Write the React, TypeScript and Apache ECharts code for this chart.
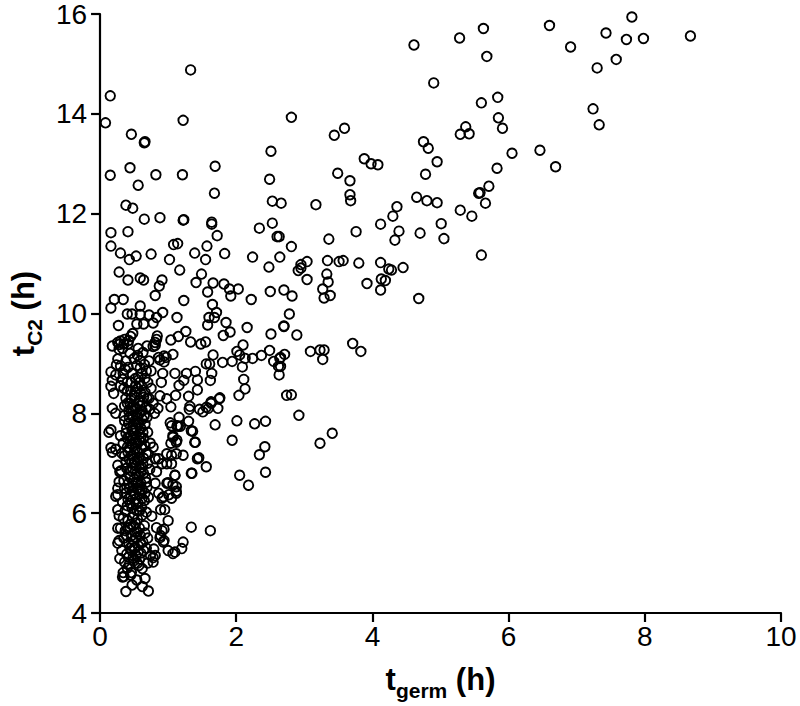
import React, { useEffect, useRef } from "react";
import * as echarts from "echarts";

// x: t_germ (h), y: t_C2 (h)
const xTicks = [0, 2, 4, 6, 8, 10];
const yTicks = [4, 6, 8, 10, 12, 14, 16];

const lateGermPoints: number[][] = [
  [7.81, 15.94], [6.60, 15.77], [7.43, 15.62], [7.73, 15.49], [7.98, 15.51], [8.67, 15.56],
  [6.91, 15.34], [7.58, 15.09], [7.30, 14.92], [7.24, 14.10], [7.33, 13.78], [6.46, 13.27],
  [6.69, 12.94], [4.61, 15.38], [5.28, 15.52], [5.63, 15.71], [5.68, 15.15], [4.90, 14.62],
  [5.60, 14.22], [5.84, 14.33], [5.85, 13.92], [5.91, 13.71], [5.37, 13.74], [5.29, 13.59],
  [5.42, 13.60], [4.75, 13.44], [4.82, 13.31], [4.95, 13.04], [4.78, 12.79], [6.05, 13.21],
  [5.83, 12.91], [5.71, 12.55], [5.56, 12.41], [5.58, 12.42], [5.66, 12.21], [5.29, 12.07],
  [5.46, 11.95], [4.65, 12.33], [4.80, 12.26], [4.95, 12.22], [4.36, 12.14], [4.30, 11.95],
  [4.12, 11.79], [4.39, 11.65], [4.33, 11.47], [4.70, 11.61], [5.01, 11.80], [5.05, 11.50],
  [5.60, 11.17], [4.68, 10.30], [4.45, 10.92],
];

const midGermPoints: number[][] = [
  [2.81, 13.93], [3.44, 13.57], [3.59, 13.71], [3.88, 13.10], [3.98, 13.00], [4.08, 12.98],
  [3.49, 12.81], [3.67, 12.66], [3.67, 12.38], [3.68, 12.26], [3.17, 12.18], [2.66, 12.21],
  [2.51, 13.25], [2.49, 12.69], [2.53, 12.25], [3.76, 11.64], [3.36, 11.49], [2.81, 11.34],
  [2.63, 11.54], [2.64, 11.13], [3.04, 11.04], [2.95, 10.98], [2.91, 10.86], [2.95, 10.91],
  [3.34, 11.06], [3.51, 11.04], [3.57, 11.06], [3.80, 11.01], [4.12, 11.02], [4.24, 10.89],
  [4.28, 10.87], [3.04, 10.68], [3.33, 10.79], [3.35, 10.63], [3.27, 10.49], [3.29, 10.31],
  [3.38, 10.36], [3.92, 10.60], [4.13, 10.69], [4.19, 10.66], [4.12, 10.47], [2.70, 10.47],
  [2.82, 10.35], [2.78, 9.99], [2.70, 9.75], [2.89, 9.57], [3.71, 9.40], [3.83, 9.24],
  [3.09, 9.24], [3.23, 9.27], [3.29, 9.27], [3.27, 9.08], [2.71, 9.18], [2.65, 9.12],
  [2.65, 8.94], [2.63, 8.77], [2.81, 8.37], [2.92, 7.96], [3.41, 7.60], [3.23, 7.40],
];

const earlyUpperPoints: number[][] = [
  [1.33, 14.88], [0.15, 14.36], [0.08, 13.82], [1.22, 13.87], [0.46, 13.59], [0.65, 13.42],
  [0.66, 13.44], [0.15, 12.77], [0.44, 12.92], [0.82, 12.78], [1.21, 12.78], [1.69, 12.95],
  [0.56, 12.57], [1.68, 12.41], [0.38, 12.17], [0.48, 12.11], [0.65, 11.89], [0.88, 11.92],
  [1.22, 11.87], [1.23, 11.88], [1.64, 11.83],
  [0.16, 11.62], [0.41, 11.64], [0.16, 11.35], [0.30, 11.21], [0.43, 11.08], [0.53, 11.15],
  [0.75, 11.19], [1.02, 11.08], [1.08, 11.38], [1.14, 11.40], [1.39, 11.21], [1.55, 11.08],
  [1.57, 11.35], [1.64, 11.79], [1.72, 11.56], [1.83, 11.20], [2.24, 11.13], [2.34, 11.71],
  [2.53, 11.81], [2.60, 11.54], [2.48, 10.93], [0.28, 10.83], [0.41, 10.67], [0.59, 10.71],
  [0.64, 10.67], [1.17, 10.87], [0.91, 10.67], [0.87, 10.55], [0.81, 10.36], [1.41, 10.62],
  [1.49, 10.79], [1.66, 10.61], [1.58, 10.43], [1.82, 10.59], [1.90, 10.49], [1.92, 10.35],
  [2.03, 10.49], [2.22, 10.28], [2.50, 10.44], [0.21, 10.28], [0.34, 10.28], [0.16, 10.11],
  [0.59, 10.15], [1.23, 10.26], [1.65, 10.18], [1.71, 10.02], [1.68, 9.92], [1.60, 9.92],
  [0.40, 9.99], [0.47, 9.99], [0.59, 9.98], [0.72, 9.97], [0.83, 9.92], [0.54, 9.79],
  [0.64, 9.79], [0.78, 9.81], [0.92, 10.02], [0.27, 9.76], [1.13, 9.92], [1.58, 9.77],
  [1.85, 9.82], [1.91, 9.63], [1.81, 9.56], [2.16, 9.72], [2.51, 9.59], [2.70, 9.74],
];

const earlyMidPoints: number[][] = [
  [0.45, 9.54], [0.28, 9.38], [0.35, 9.39], [0.41, 9.39], [0.18, 9.35], [0.81, 9.42],
  [0.78, 9.34], [1.04, 9.47], [1.15, 9.54], [1.26, 9.64], [1.33, 9.43], [1.48, 9.39],
  [1.55, 9.43], [1.66, 9.17], [1.80, 9.02], [1.94, 9.04], [2.01, 9.24], [2.10, 9.37],
  [2.05, 9.17], [2.13, 9.10], [2.24, 9.10], [2.37, 9.16], [2.49, 9.26], [2.55, 9.04],
  [2.64, 9.10], [2.62, 8.94], [2.74, 8.36], [1.07, 9.18], [0.88, 9.07], [0.94, 9.03],
  [1.56, 8.99], [1.61, 8.99], [1.64, 8.80], [2.09, 8.93], [2.11, 8.68], [2.13, 8.49],
  [2.04, 8.36], [1.76, 8.31], [1.10, 8.80], [1.27, 8.80], [1.23, 8.66], [1.40, 8.84],
  [1.43, 8.67], [1.62, 8.66], [1.43, 8.47], [1.30, 8.34], [1.32, 8.14], [1.46, 8.08],
  [1.56, 8.12], [1.63, 8.23], [1.16, 8.56], [1.11, 8.36], [1.04, 8.13], [0.98, 8.29],
  [1.69, 7.77], [2.01, 7.85], [2.27, 7.79], [2.43, 7.84], [1.94, 7.46], [2.42, 7.33],
  [2.34, 7.17], [2.43, 6.82], [2.05, 6.76], [2.18, 6.56], [1.34, 5.72], [1.62, 5.65],
  [1.45, 7.11], [1.56, 6.93], [1.35, 6.80], [1.40, 7.42], [1.36, 7.64], [1.30, 7.84],
  [1.16, 7.92], [1.18, 7.74], [1.31, 8.08], [1.51, 8.03], [1.59, 8.10], [1.63, 8.20],
  [1.73, 8.10], [1.75, 8.29], [1.03, 7.81], [1.15, 7.74], [1.07, 7.55], [1.13, 7.46],
  [1.04, 7.40], [1.10, 6.76], [1.07, 6.57], [1.12, 6.44], [1.01, 6.37], [1.00, 6.61],
  [0.93, 6.33], [0.89, 6.07], [1.00, 5.85], [0.94, 5.68], [0.89, 5.55], [0.94, 5.45],
  [0.76, 5.94], [0.79, 5.28], [0.78, 5.11],
  [1.05, 7.75], [1.13, 7.75], [1.34, 7.65], [1.07, 7.52], [1.12, 7.42], [1.39, 7.42],
  [0.98, 7.19], [1.05, 7.16], [1.12, 7.19], [1.22, 7.16], [0.86, 7.09], [0.91, 6.99],
  [0.98, 6.99], [1.05, 6.99], [1.10, 6.76], [1.34, 6.80], [1.43, 7.09],
  [0.78, 7.32], [0.81, 7.09], [0.83, 6.83], [0.81, 6.60], [0.86, 6.40], [0.91, 6.30],
  [0.98, 6.60], [1.05, 6.30], [1.12, 6.40], [1.12, 6.53], [0.95, 6.07],
  [0.83, 5.71], [0.91, 5.65], [0.88, 5.51], [0.93, 5.42], [1.00, 5.25], [1.07, 5.19],
  [1.10, 5.22], [1.20, 5.29], [1.22, 5.42], [0.78, 5.02], [0.81, 5.15],
];

const earlyCorePoints: number[][] = [
  [0.26, 9.42], [0.30, 9.45], [0.36, 9.48], [0.42, 9.46], [0.48, 9.60], [0.33, 9.30],
  [0.28, 9.28], [0.56, 9.30], [0.55, 9.16], [0.59, 9.06], [0.54, 8.96], [0.59, 8.91],
  [0.65, 8.98], [0.61, 8.79], [0.66, 8.70], [0.83, 9.48], [0.84, 9.55], [0.81, 9.36],
  [0.86, 9.12], [0.94, 9.15], [0.97, 9.12], [0.16, 8.83], [0.18, 8.66], [0.16, 8.54],
  [0.23, 8.77], [0.24, 8.97], [0.26, 9.09], [0.20, 8.40], [0.30, 8.55], [0.35, 8.50],
  [0.40, 8.62], [0.45, 8.45], [0.38, 8.30], [0.44, 8.20], [0.50, 8.35], [0.52, 8.10],
  [0.48, 7.95], [0.42, 8.05], [0.36, 8.15], [0.55, 8.50], [0.60, 8.40], [0.63, 8.22],
  [0.58, 8.00], [0.65, 7.95], [0.68, 8.12], [0.72, 8.30], [0.75, 8.50], [0.70, 8.62],
  [0.78, 8.20], [0.80, 8.00], [0.85, 8.10], [0.88, 8.35], [0.90, 8.62], [0.92, 8.80],
  [0.75, 8.85], [0.47, 8.80], [0.41, 8.92], [0.34, 8.80], [0.30, 8.95], [0.50, 9.10],
  [0.44, 9.20], [0.38, 9.05],
  [0.18, 8.10], [0.23, 8.00], [0.16, 7.67], [0.13, 7.62], [0.16, 7.31], [0.23, 7.28],
  [0.18, 7.22], [0.26, 6.96], [0.29, 6.83], [0.28, 6.63], [0.26, 6.50], [0.23, 6.34],
  [0.26, 6.37], [0.26, 6.07], [0.26, 5.70], [0.26, 5.40], [0.29, 5.09], [0.33, 4.72],
  [0.36, 7.85], [0.42, 7.80], [0.48, 7.72], [0.55, 7.82], [0.60, 7.70], [0.66, 7.78],
  [0.38, 7.60], [0.45, 7.55], [0.52, 7.48], [0.58, 7.58], [0.64, 7.50], [0.70, 7.62],
  [0.34, 7.40], [0.40, 7.32], [0.47, 7.38], [0.54, 7.25], [0.61, 7.30], [0.68, 7.20],
  [0.74, 7.40], [0.36, 7.15], [0.43, 7.08], [0.50, 7.02], [0.57, 7.10], [0.63, 6.98],
  [0.70, 7.00], [0.39, 6.90], [0.46, 6.85], [0.53, 6.78], [0.60, 6.82], [0.67, 6.70],
  [0.73, 6.88], [0.35, 6.65], [0.42, 6.60], [0.49, 6.55], [0.56, 6.62], [0.62, 6.48],
  [0.69, 6.52], [0.38, 6.40], [0.45, 6.35], [0.52, 6.28], [0.58, 6.38], [0.65, 6.25],
  [0.71, 6.32], [0.40, 6.15], [0.47, 6.10], [0.54, 6.05], [0.61, 6.12], [0.68, 6.02],
  [0.33, 6.22], [0.31, 6.85], [0.32, 7.20], [0.30, 7.55], [0.55, 7.95], [0.62, 7.88],
  [0.28, 5.95], [0.34, 5.90], [0.41, 5.85], [0.48, 5.92], [0.55, 5.88], [0.62, 5.96],
  [0.30, 5.70], [0.37, 5.65], [0.44, 5.72], [0.51, 5.62], [0.58, 5.70], [0.66, 5.60],
  [0.28, 5.45], [0.35, 5.50], [0.42, 5.40], [0.49, 5.45], [0.56, 5.35], [0.63, 5.42],
  [0.70, 5.50], [0.32, 5.25], [0.39, 5.18], [0.46, 5.25], [0.53, 5.15], [0.60, 5.20],
  [0.68, 5.30], [0.74, 5.15], [0.36, 5.02], [0.43, 4.98], [0.50, 5.05], [0.57, 4.95],
  [0.70, 5.00], [0.35, 4.73], [0.45, 4.76], [0.54, 4.66], [0.66, 4.69], [0.47, 4.56],
  [0.38, 4.43], [0.62, 4.53], [0.71, 4.44], [0.34, 4.81], [0.46, 4.81], [0.62, 4.89],
];

const earlyDensePoints: number[][] = [
  [0.40, 8.45], [0.46, 8.30], [0.52, 8.55], [0.57, 8.25], [0.62, 8.05], [0.49, 8.15],
  [0.43, 7.92], [0.51, 7.85], [0.57, 7.80], [0.64, 8.32], [0.69, 7.92], [0.73, 8.08],
  [0.39, 7.70], [0.44, 7.45], [0.50, 7.60], [0.55, 7.40], [0.60, 7.52], [0.66, 7.35],
  [0.71, 7.18], [0.41, 7.22], [0.48, 7.15], [0.53, 6.95], [0.58, 6.90], [0.64, 6.80],
  [0.68, 6.62], [0.44, 6.72], [0.50, 6.68], [0.55, 6.50], [0.60, 6.60], [0.47, 6.45],
  [0.41, 6.28], [0.56, 6.20], [0.62, 6.30], [0.50, 5.98], [0.45, 5.78], [0.52, 5.80],
  [0.59, 5.55], [0.39, 5.55], [0.47, 5.35], [0.53, 5.50], [0.42, 5.12], [0.58, 5.08],
  [0.64, 5.25], [0.33, 8.68], [0.37, 8.88], [0.52, 8.70], [0.58, 8.62], [0.68, 8.85],
  [0.72, 9.05], [0.63, 9.22], [0.69, 9.35],
  [0.46, 8.62], [0.51, 8.42], [0.56, 8.72], [0.61, 8.55], [0.49, 8.05], [0.54, 7.92],
  [0.45, 8.10], [0.59, 8.15], [0.66, 8.42], [0.40, 8.20], [0.47, 7.65], [0.53, 7.70],
  [0.58, 7.45], [0.49, 7.50], [0.63, 7.62], [0.43, 7.30], [0.51, 7.28], [0.57, 7.20],
  [0.46, 7.00], [0.55, 7.05], [0.61, 6.92], [0.48, 6.90], [0.52, 6.62], [0.57, 6.75],
  [0.43, 6.50], [0.59, 6.45], [0.50, 6.40], [0.44, 6.20], [0.53, 6.18], [0.58, 6.05],
  [0.49, 5.75], [0.55, 5.62], [0.46, 5.55], [0.41, 5.70], [0.51, 5.30], [0.56, 5.22],
  [0.44, 5.30], [0.48, 5.10], [0.55, 5.00], [0.40, 4.90], [0.60, 5.40], [0.65, 5.75],
  [0.37, 6.05], [0.36, 6.50], [0.38, 7.02], [0.40, 7.50], [0.64, 7.10], [0.66, 6.40],
  [0.35, 7.95], [0.69, 8.30],
];

const allPoints = [
  ...lateGermPoints,
  ...midGermPoints,
  ...earlyUpperPoints,
  ...earlyMidPoints,
  ...earlyCorePoints,
  ...earlyDensePoints,
];

const FONT = "'Liberation Sans', Arial, sans-serif";

export default function App() {
  const ref = useRef<HTMLDivElement>(null);
  useEffect(() => {
    if (!ref.current) return;
    const chart = echarts.init(ref.current, null, { renderer: "svg" });
    const titleRich = {
      t: { fontSize: 31, fontWeight: "bold", fontFamily: FONT, color: "#000", lineHeight: 32, verticalAlign: "top" },
      sub: { fontSize: 21, fontWeight: "bold", fontFamily: FONT, color: "#000", lineHeight: 22, padding: [16, 0, 0, 0], verticalAlign: "top" },
    };
    const axisCommon = {
      axisLine: { show: true, lineStyle: { color: "#000", width: 2.2 } },
      axisTick: { show: true, length: 9, lineStyle: { color: "#000", width: 2.2 } },
      axisLabel: { color: "#000", fontSize: 28, fontFamily: FONT },
      splitLine: { show: false },
    };
    chart.setOption({
      animation: false,
      backgroundColor: "#fff",
      grid: { left: 88, right: 19, top: 11, bottom: 88, containLabel: false },
      xAxis: {
        type: "value",
        min: xTicks[0],
        max: xTicks[xTicks.length - 1],
        interval: 2,
        ...axisCommon,
        axisLabel: { ...axisCommon.axisLabel, margin: 9 },
        name: "{t|t}{sub|germ}{t| (h)}",
        nameLocation: "middle",
        nameGap: 51,
        nameTextStyle: { rich: titleRich },
      },
      yAxis: {
        type: "value",
        min: yTicks[0],
        max: yTicks[yTicks.length - 1],
        interval: 2,
        ...axisCommon,
        axisLabel: { ...axisCommon.axisLabel, margin: 13 },
        name: "{t|t}{sub|C2}{t| (h)}",
        nameLocation: "middle",
        nameGap: 52,
        nameRotate: 90,
        nameTextStyle: { rich: titleRich },
      },
      series: [
        {
          type: "scatter",
          data: allPoints,
          symbol: "circle",
          symbolSize: 9.5,
          itemStyle: { color: "transparent", borderColor: "#000", borderWidth: 1.9, opacity: 1 },
          emphasis: { disabled: true },
        },
      ],
    });
    return () => chart.dispose();
  }, []);
  return <div ref={ref} style={{ width: 800, height: 706, position: "absolute", left: 0, top: 0 }} />;
}
